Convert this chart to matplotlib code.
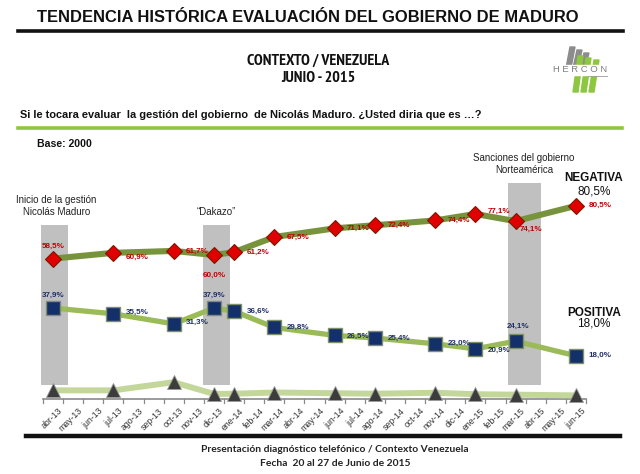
import matplotlib
matplotlib.use("Agg")
import matplotlib.pyplot as plt
from matplotlib import font_manager
from matplotlib.patches import Polygon, Rectangle
from matplotlib.lines import Line2D

# ---------------- data ----------------
months = ["abr-13", "may-13", "jun-13", "jul-13", "ago-13", "sep-13", "oct-13", "nov-13",
          "dic-13", "ene-14", "feb-14", "mar-14", "abr-14", "may-14", "jun-14", "jul-14",
          "ago-14", "sep-14", "oct-14", "nov-14", "dic-14", "ene-15", "feb-15", "mar-15",
          "abr-15", "may-15", "jun-15"]
survey_months = ["abr-13", "jul-13", "oct-13", "dic-13", "ene-14", "mar-14", "jun-14",
                 "ago-14", "nov-14", "ene-15", "mar-15", "jun-15"]
negativa = [58.5, 60.9, 61.7, 60.0, 61.2, 67.5, 71.1, 72.4, 74.4, 77.1, 74.1, 80.5]
positiva = [37.9, 35.5, 31.3, 37.9, 36.6, 29.8, 26.5, 25.4, 23.0, 20.9, 24.1, 18.0]
ns_nc = [3.6, 3.6, 7.0, 2.1, 2.2, 2.7, 2.4, 2.2, 2.6, 2.0, 1.8, 1.5]

events = ["Inicio de la gestión\nNicolás Maduro", "\u201cDakazo\u201d",
          "Sanciones del gobierno\nNorteamérica"]
event_months = ["abr-13", "dic-13", "mar-15"]

# label placement (offsets in points) for each data point
neg_offsets = [(0, 9), (9, -3), (9, 0), (0, -15), (9, 0), (9, 0), (9, 0), (9, 0), (9, 0),
               (9, 2), (3, -6), (9, 0)]
pos_offsets = [(0, 9), (9, 1), (9, 1), (0, 9), (9, 0), (9, 0), (9, -1), (9, 0), (9, 0),
               (9, -1), (2, 11), (9, 0)]

W, H = 640, 474
fig = plt.figure(figsize=(W / 100, H / 100), dpi=100)
fig.patch.set_facecolor("white")


def fx(px):
    return px / W


def fy(py):
    return 1 - py / H


SANS = ["Liberation Sans", "DejaVu Sans"]


def find_condensed():
    cands = []
    for f in font_manager.fontManager.ttflist:
        name = (f.name + " " + f.fname).lower()
        if ("narrow" in name or "condensed" in name) and f.weight in ("bold", 700, "heavy"):
            cands.append(f)
    if not cands:
        for f in font_manager.fontManager.ttflist:
            name = (f.name + " " + f.fname).lower()
            if "narrow" in name or "condensed" in name:
                cands.append(f)
    if cands:
        cands.sort(key=lambda f: (0 if "narrow" in f.fname.lower() else 1, f.fname))
        return font_manager.FontProperties(fname=cands[0].fname)
    return None


cond_fp = find_condensed()

# ---------------- header ----------------
fig.text(fx(308), fy(17), "TENDENCIA HISTÓRICA EVALUACIÓN DEL GOBIERNO DE MADURO",
         ha="center", va="center", fontsize=11.9, fontweight="bold", family=SANS,
         color="#111111")
fig.add_artist(Line2D([fx(18), fx(623)], [fy(31), fy(31)], color="#111111", lw=2.6))

if cond_fp is not None:
    hdr_kw = dict(fontproperties=cond_fp)
    hdr_kw["fontproperties"].set_size(11.5)
else:
    hdr_kw = dict(fontsize=9.0, fontweight="bold", family=SANS)
fig.text(fx(318), fy(61), "CONTEXTO / VENEZUELA", ha="center", va="center",
         color="#111111", **hdr_kw)
fig.text(fx(318), fy(78), "JUNIO - 2015", ha="center", va="center",
         color="#111111", **hdr_kw)

# logo (HERCON)
grey_logo = "#8c8c8c"
green_logo = "#8dc63f"
for i, x0 in enumerate([566, 573, 580]):
    top, bot = 47 + i * 3, 68
    fig.add_artist(Polygon([(fx(x0 + 4), fy(top)), (fx(x0 + 9), fy(top)),
                            (fx(x0 + 5), fy(bot)), (fx(x0), fy(bot))],
                           closed=True, color=grey_logo, transform=fig.transFigure))
for i, x0 in enumerate([573, 581, 589]):
    top, bot = 56 + i * 2, 92
    fig.add_artist(Polygon([(fx(x0 + 5), fy(top)), (fx(x0 + 10), fy(top)),
                            (fx(x0 + 5), fy(bot)), (fx(x0), fy(bot))],
                           closed=True, color=green_logo, transform=fig.transFigure))
fig.add_artist(Rectangle((fx(555), fy(75)), fx(55), 10 / H, color="white",
                         transform=fig.transFigure))
fig.text(fx(580), fy(70), "H E R C O N", ha="center", va="center", fontsize=6.8,
         family=SANS, color="#7f7f7f")
fig.add_artist(Line2D([fx(588), fx(607)], [fy(75.5), fy(75.5)], color="#9a9a9a", lw=0.6))

# question
fig.text(fx(20), fy(115), "Si le tocara evaluar  la gestión del gobierno  de Nicolás Maduro. "
         "¿Usted diria que es \u2026?", ha="left", va="center", fontsize=7.95,
         fontweight="bold", family=SANS, color="#111111")
fig.add_artist(Line2D([fx(18), fx(622)], [fy(127.5), fy(127.5)], color="#8dc63f", lw=2.6))
fig.text(fx(37), fy(144), "Base: 2000", ha="left", va="center", fontsize=7.6,
         fontweight="bold", family=SANS, color="#111111")

# ---------------- chart ----------------
ax_left, ax_right, ax_bottom, ax_top = 43, 586, 399, 159
ax = fig.add_axes([fx(ax_left), 1 - ax_bottom / H, (ax_right - ax_left) / W,
                   (ax_bottom - ax_top) / H])
ax.set_xlim(-0.5, len(months) - 0.5)
ax.set_ylim(0, 100)
ax.axis("off")

xs = [months.index(m) for m in survey_months]

# event bars
bar_specs = [(-0.6, 0.75, 5.8, 72.5), (7.45, 8.8, 5.8, 72.5), (22.6, 24.25, 5.8, 90.0)]
for (x0, x1, y0, y1), ev, em in zip(bar_specs, events, event_months):
    ax.add_patch(Rectangle((x0, y0), x1 - x0, y1 - y0, facecolor="#c0c0c0",
                           edgecolor="none", zorder=1, clip_on=False))
    ax.text((x0 + x1) / 2 + (0.1 if em == "abr-13" else 0), y1 + 3.2, ev, ha="center",
            va="bottom", fontsize=7, family=SANS, color="#222222",
            linespacing=1.25, zorder=5, clip_on=False)

# axis line with ticks between categories
ax.plot([-0.5, len(months) - 0.5], [0, 0], color="#8a8a8a", lw=1.2, clip_on=False,
        zorder=2)
for i in range(len(months) + 1):
    ax.plot([i - 0.5, i - 0.5], [0, -1.7], color="#8a8a8a", lw=0.9, clip_on=False)
for i, m in enumerate(months):
    ax.text(i + 0.25, -3.0, m, rotation=45, ha="right", va="top", fontsize=6.3,
            family=SANS, color="#333333", rotation_mode="anchor", clip_on=False)

# NS/NC series
ax.plot(xs, ns_nc, color="#c4d79b", lw=4.3, zorder=3, solid_capstyle="butt")
ax.plot(xs, ns_nc, ls="none", marker="^", ms=10, color="#3c3c3c",
        markeredgecolor="#9a9a9a", markeredgewidth=0.6, zorder=4, clip_on=False)

# Negativa
ax.plot(xs, negativa, color="#77933c", lw=4.4, zorder=3, solid_capstyle="butt")
ax.plot(xs, negativa, ls="none", marker="D", ms=8.5, color="#e00000",
        markeredgecolor="#7a1a00", markeredgewidth=0.8, zorder=4)
for x, v, off in zip(xs, negativa, neg_offsets):
    ha = "center" if off[0] < 3 else "left"
    ax.annotate(f"{v:.1f}%".replace(".", ","), (x, v), xytext=off,
                textcoords="offset points", ha=ha, va="center", fontsize=5.8,
                fontweight="bold", family=SANS, color="#c00000", zorder=6)

# Positiva
ax.plot(xs, positiva, color="#9bbb59", lw=3.8, zorder=3, solid_capstyle="butt")
ax.plot(xs, positiva, ls="none", marker="s", ms=10.5, color="#13306a",
        markeredgecolor="#7f8f6a", markeredgewidth=1.0, zorder=4)
for x, v, off in zip(xs, positiva, pos_offsets):
    ha = "center" if off[0] < 5 else "left"
    ax.annotate(f"{v:.1f}%".replace(".", ","), (x, v), xytext=off,
                textcoords="offset points", ha=ha, va="center", fontsize=5.8,
                fontweight="bold", family=SANS, color="#1f2f6a", zorder=6)

# end labels
last = len(months) - 1
ax.annotate("NEGATIVA", (last, negativa[-1]), xytext=(13, 20), textcoords="offset points",
            ha="center", va="center", fontsize=8.5, fontweight="bold", family=SANS,
            color="#111111", annotation_clip=False)
ax.annotate(f"{negativa[-1]:.1f}%".replace(".", ","), (last, negativa[-1]), xytext=(13, 10.5),
            textcoords="offset points", ha="center", va="center", fontsize=8.5,
            family=SANS, color="#111111", annotation_clip=False)
ax.annotate("POSITIVA", (last, positiva[-1]), xytext=(13, 31), textcoords="offset points",
            ha="center", va="center", fontsize=8.5, fontweight="bold", family=SANS,
            color="#111111", annotation_clip=False)
ax.annotate(f"{positiva[-1]:.1f}%".replace(".", ","), (last, positiva[-1]), xytext=(13, 23),
            textcoords="offset points", ha="center", va="center", fontsize=8.5,
            family=SANS, color="#111111", annotation_clip=False)

# ---------------- footer ----------------
fig.add_artist(Line2D([fx(26), fx(620)], [fy(436), fy(436)], color="#111111", lw=3.2))
FOOT = ["Lato", "DejaVu Sans"]
fig.text(fx(335), fy(449), "Presentación diagnóstico telefónico / Contexto Venezuela",
         ha="center", va="center", fontsize=7.4, fontweight="bold", family=FOOT,
         color="#222222")
fig.text(fx(335), fy(463), "Fecha  20 al 27 de Junio de 2015", ha="center", va="center",
         fontsize=7.4, fontweight="bold", family=FOOT, color="#222222")

fig.savefig("out.png", dpi=100, facecolor="white")
